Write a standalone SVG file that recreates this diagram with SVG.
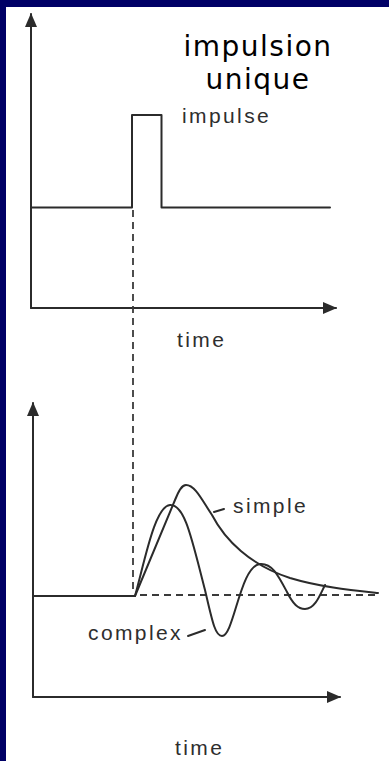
<svg xmlns="http://www.w3.org/2000/svg" width="389" height="761" viewBox="0 0 389 761">
<defs>
<style>
.ln{fill:none;stroke:#2b2b2b;stroke-width:2;stroke-linejoin:round;stroke-linecap:round}
.ds{fill:none;stroke:#3a3a3a;stroke-width:1.8;stroke-dasharray:7 5}
.lb{font-family:"Liberation Sans",Arial,sans-serif;font-size:21px;fill:#2e2e2e;letter-spacing:2.4px}
.ttl{font-family:"DejaVu Sans",Verdana,sans-serif;font-size:28px;fill:#000;text-anchor:middle;letter-spacing:1.5px}
</style>
<marker id="ah" viewBox="0 0 14 12" refX="13" refY="6" markerWidth="14" markerHeight="12" markerUnits="userSpaceOnUse" orient="auto">
<path d="M0,0 L14,6 L0,12 Z" fill="#2b2b2b"/>
</marker>
</defs>
<rect x="0" y="0" width="389" height="761" fill="#000066"/>
<rect x="6" y="7" width="383" height="754" fill="#ffffff"/>

<g id="top-chart">
<path class="ln" d="M31,308 L31,14" marker-end="url(#ah)"/>
<path class="ln" d="M31,308 L336,308" marker-end="url(#ah)"/>
<path class="ln" d="M31,207.5 L132,207.5 L132,115 L161.5,115 L161.5,207.5 L330,207.5"/>
</g>

<g id="connectors">
<path class="ds" d="M133,210 L133,590"/>
<path class="ds" d="M140,595 L378,595"/>
</g>

<g id="bottom-chart">
<path class="ln" d="M33,697 L33,403" marker-end="url(#ah)"/>
<path class="ln" d="M33,697 L340,697" marker-end="url(#ah)"/>
<path class="ln" d="M33,596 L135,596"/>
<path id="simple" class="ln" d="M135,596 L175,500 C179,490 182,485 186,485 C195,485 202,500 212,515 C225,540 250,565 290,578 C320,587 350,590 378,593"/>
<path id="complex" class="ln" d="M135,596 C145,560 155,506 170,505 C185,504 192,540 205,590 C212,620 215,636 222,636 C234,636 240,566 260,564 C272,563 278,575 287,592 C293,604 298,609 305,609 C315,609 320,595 325,585"/>
<path class="ln" d="M214,512 L224,509"/>
<path class="ln" d="M188,636 L205,630"/>
</g>

<g id="labels">
<text class="ttl" x="258" y="56">impulsion</text>
<text class="ttl" x="258" y="89">unique</text>
<text class="lb" x="182" y="123">impulse</text>
<text class="lb" x="177" y="347">time</text>
<text class="lb" x="233" y="513">simple</text>
<text class="lb" x="88" y="640">complex</text>
<text class="lb" x="175" y="755">time</text>
</g>
</svg>
